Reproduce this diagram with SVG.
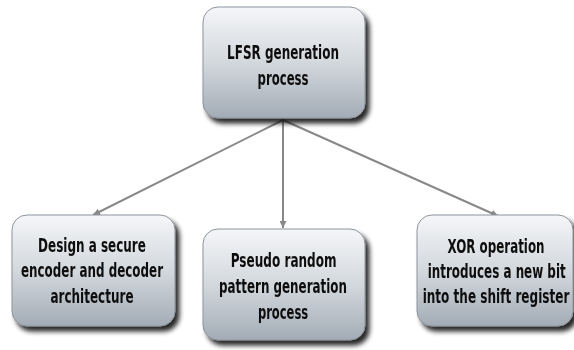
<svg xmlns="http://www.w3.org/2000/svg" width="574" height="350" viewBox="0 0 574 350">
<style>
.box{fill:url(#g);stroke:#8e949c;stroke-width:1}
.t{font-family:"DejaVu Sans Condensed","DejaVu Sans",sans-serif;font-stretch:condensed;font-weight:bold;font-size:20px;fill:#111;text-anchor:middle}
.c{stroke:#888;stroke-width:2;fill:none;marker-end:url(#ah)}
</style>
<defs>
<linearGradient id="g" x1="0" y1="0" x2="0" y2="1">
<stop offset="0" stop-color="#f5f6f8"/>
<stop offset="0.5" stop-color="#d3d8dd"/>
<stop offset="1" stop-color="#a3acb6"/>
</linearGradient>
<filter id="sh" x="-20%" y="-20%" width="150%" height="150%">
<feGaussianBlur in="SourceAlpha" stdDeviation="2.5"/>
<feOffset dx="4" dy="5" result="b"/>
<feComponentTransfer><feFuncA type="linear" slope="0.85"/></feComponentTransfer>
<feMerge><feMergeNode/><feMergeNode in="SourceGraphic"/></feMerge>
</filter>
<marker id="ah" viewBox="0 0 10 10" refX="10" refY="5" markerWidth="7" markerHeight="7" markerUnits="userSpaceOnUse" orient="auto">
<path d="M0,0 L10,5 L0,10 Z" fill="#888"/>
</marker>
</defs>
<g id="connectors">
<path class="c" d="M283,120 L93,215"/>
<path class="c" d="M283,120 L283,228"/>
<path class="c" d="M283,120 L498,216"/>
</g>
<g id="n0" filter="url(#sh)">
<rect class="box" x="203" y="7" width="162" height="111" rx="15"/>
<g transform="translate(283,0) scale(0.67,1)">
<text class="t" x="0" y="59" textLength="167" lengthAdjust="spacingAndGlyphs">LFSR generation</text>
<text class="t" x="0" y="85" textLength="76" lengthAdjust="spacingAndGlyphs">process</text>
</g>
</g>
<g id="n1" filter="url(#sh)">
<rect class="box" x="12" y="215" width="163" height="111" rx="15"/>
<g transform="translate(92,0) scale(0.67,1)">
<text class="t" x="0" y="252" textLength="161" lengthAdjust="spacingAndGlyphs">Design a secure</text>
<text class="t" x="0" y="277" textLength="212" lengthAdjust="spacingAndGlyphs">encoder and decoder</text>
<text class="t" x="0" y="303" textLength="124" lengthAdjust="spacingAndGlyphs">architecture</text>
</g>
</g>
<g id="n2" filter="url(#sh)">
<rect class="box" x="203" y="229" width="162" height="111" rx="15"/>
<g transform="translate(283,0) scale(0.67,1)">
<text class="t" x="1" y="267" textLength="158" lengthAdjust="spacingAndGlyphs">Pseudo random</text>
<text class="t" x="0" y="293" textLength="191" lengthAdjust="spacingAndGlyphs">pattern generation</text>
<text class="t" x="0" y="319" textLength="75" lengthAdjust="spacingAndGlyphs">process</text>
</g>
</g>
<g id="n3" filter="url(#sh)">
<rect class="box" x="417" y="215" width="156" height="111" rx="15"/>
<g transform="translate(496,0) scale(0.67,1)">
<text class="t" x="0" y="253" textLength="145" lengthAdjust="spacingAndGlyphs">XOR operation</text>
<text class="t" x="1" y="278" textLength="206" lengthAdjust="spacingAndGlyphs">introduces a new bit</text>
<text class="t" x="0" y="303" textLength="219" lengthAdjust="spacingAndGlyphs">into the shift register</text>
</g>
</g>
</svg>
